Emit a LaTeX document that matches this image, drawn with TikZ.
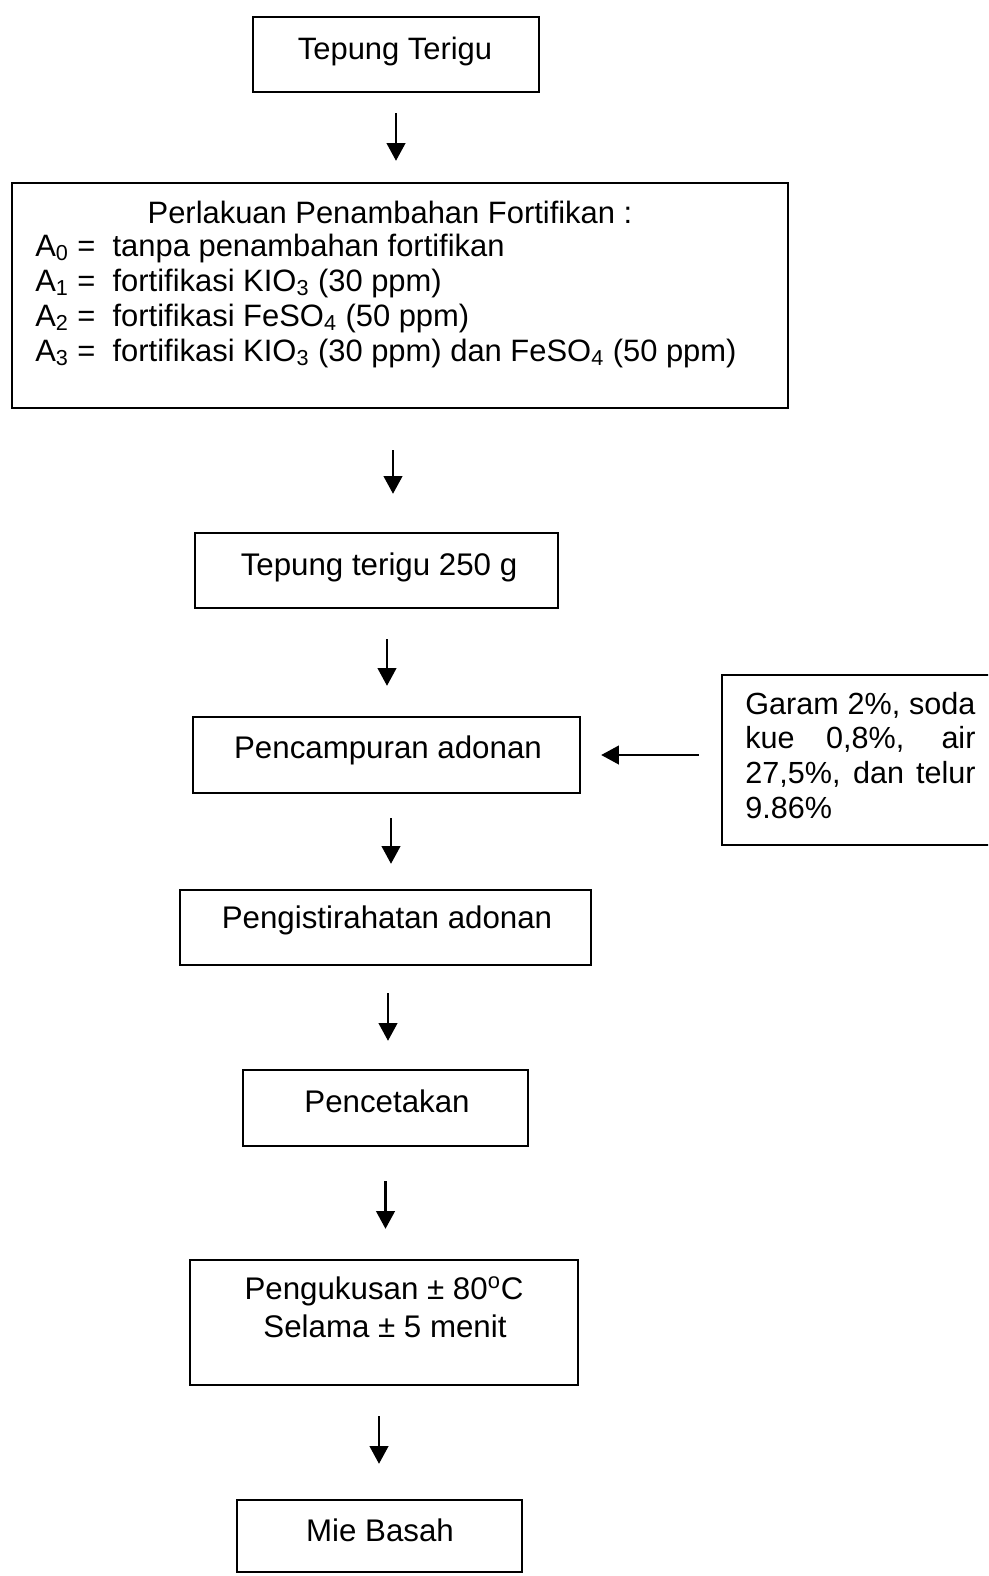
\documentclass[tikz,border=0pt]{standalone}
\usepackage{fontspec}
\setmainfont{Liberation Sans}
\usetikzlibrary{arrows.meta,calc}
\newcommand\mylead[1]{\makebox[44pt][l]{#1}}
\begin{document}
\begin{tikzpicture}[x=0.02cm,y=-0.02cm,
  box/.style={draw, line width=1.4pt, inner sep=0pt},
  lbl/.style={anchor=base, inner sep=0pt, font=\fontsize{17.6}{20}\selectfont},
  lft/.style={lbl, anchor=base west},
  arr/.style={line width=1.3pt, -{Triangle[length=10pt,width=10.5pt]}}]
\clip (0,0) rectangle (988,1576);
\fill[white] (0,0) rectangle (988,1576);

% boxes
\node[box, minimum width=5.72cm, minimum height=1.5cm] (b1) at (396,54.5) {};
\node[box, minimum width=15.52cm, minimum height=4.5cm] (b2) at (400,295.5) {};
\node[box, minimum width=7.26cm, minimum height=1.5cm] (b3) at (376.5,570.5) {};
\node[box, minimum width=7.74cm, minimum height=1.52cm] (b4) at (386.5,755) {};
\node[box, minimum width=5.56cm, minimum height=3.4cm] (side) at (861,760) {};
\node[box, minimum width=8.22cm, minimum height=1.5cm] (b5) at (385.5,927.5) {};
\node[box, minimum width=5.7cm, minimum height=1.52cm] (b6) at (385.5,1108) {};
\node[box, minimum width=7.76cm, minimum height=2.5cm] (b7) at (384,1322.5) {};
\node[box, minimum width=5.7cm, minimum height=1.44cm] (b8) at (379.5,1536) {};

% texts
\node[lbl] (t1) at (395,59) {Tepung Terigu};
\node[lbl] (t2) at (390,223) {Perlakuan Penambahan Fortifikan :};
\node[lft] (t2a) at (35,256) {\mylead{A\textsubscript{0} =}tanpa penambahan fortifikan};
\node[lft] (t2b) at (35,291) {\mylead{A\textsubscript{1} =}fortifikasi KIO\textsubscript{3} (30 ppm)};
\node[lft] (t2c) at (35,326) {\mylead{A\textsubscript{2} =}fortifikasi FeSO\textsubscript{4} (50 ppm)};
\node[lft] (t2d) at (35,361) {\mylead{A\textsubscript{3} =}fortifikasi KIO\textsubscript{3} (30 ppm) dan FeSO\textsubscript{4} (50 ppm)};
\node[lbl, font=\fontsize{17.8}{20}\selectfont] (t3) at (379,575) {Tepung terigu 250 g};
\node[lbl, font=\fontsize{17.8}{20}\selectfont] (t4) at (388,758) {Pencampuran adonan};
\node[lft, font=\fontsize{17.4}{20}\selectfont] (s1) at (745,714) {\makebox[131pt][s]{Garam 2\%, soda}};
\node[lft, font=\fontsize{17.4}{20}\selectfont] (s2) at (745,748) {\makebox[131pt][s]{kue 0,8\%, air}};
\node[lft, font=\fontsize{17.4}{20}\selectfont] (s3) at (745,783) {\makebox[131pt][s]{27,5\%, dan telur}};
\node[lft, font=\fontsize{17.4}{20}\selectfont] (s4) at (745,818) {9.86\%};
\node[lbl, font=\fontsize{17.8}{20}\selectfont] (t5) at (387,928) {Pengistirahatan adonan};
\node[lbl, font=\fontsize{17.8}{20}\selectfont] (t6) at (387,1112) {Pencetakan};
\node[lbl, font=\fontsize{17.8}{20}\selectfont] (t7a) at (384,1299) {Pengukusan ± 80\textsuperscript{o}C};
\node[lbl, font=\fontsize{17.8}{20}\selectfont] (t7b) at (385,1337) {Selama ± 5 menit};
\node[lbl, font=\fontsize{17.8}{20}\selectfont] (t8) at (380,1541) {Mie Basah};

% arrows
\draw[arr, shorten <=0.40cm, shorten >=0.42cm] (b1.south) -- (b1.south |- b2.north);
\draw[arr, shorten <=0.82cm, shorten >=0.76cm] ([xshift=-0.14cm]b2.south) -- ([xshift=-0.14cm]b2.south |- b3.north);
\draw[arr, shorten <=0.60cm, shorten >=0.60cm] ([xshift=0.21cm]b3.south) -- ([xshift=0.21cm]b3.south |- b4.north);
\draw[arr, shorten <=0.48cm, shorten >=0.50cm] ([xshift=0.09cm]b4.south) -- ([xshift=0.09cm]b4.south |- b5.north);
\draw[arr, shorten <=0.54cm, shorten >=0.56cm] ([xshift=0.05cm]b5.south) -- ([xshift=0.05cm]b5.south |- b6.north);
\draw[arr, shorten <=0.68cm, shorten >=0.60cm] (b6.south) -- (b6.south |- b7.north);
\draw[arr, shorten <=0.60cm, shorten >=0.70cm] ([xshift=-0.1cm]b7.south) -- ([xshift=-0.1cm]b7.south |- b8.north);
\draw[arr, shorten <=0.44cm, shorten >=0.40cm] ([yshift=0.1cm]side.west) -- ([yshift=0.1cm]side.west -| b4.east);
\end{tikzpicture}
\end{document}
